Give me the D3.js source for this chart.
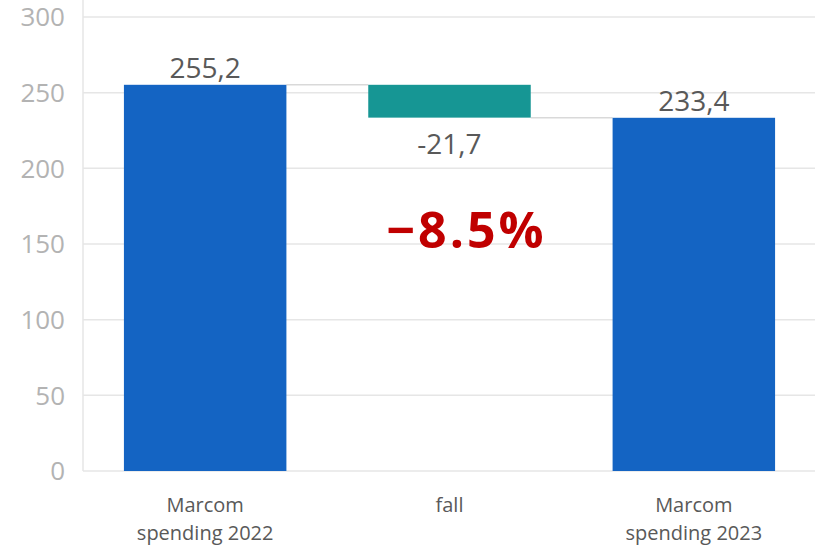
<!DOCTYPE html>
<html>
<head>
<meta charset="utf-8">
<script src="https://cdn.jsdelivr.net/npm/d3@7"></script>
<style>
  body { margin: 0; background: #fff; }
  svg { display: block; font-family: "Open Sans", "Noto Sans", sans-serif; }
</style>
</head>
<body>
<svg width="815" height="546"></svg>
<script>
// Data
var categories = ["Marcom\nspending 2022", "fall", "Marcom\nspending 2023"];
var values = [255.2, -21.7, 233.4];
var labels = ["255,2", "-21,7", "233,4"];
var kinds = ["total", "delta", "total"];
var yTicks = [0, 50, 100, 150, 200, 250, 300];
var changeLabel = "\u22128.5%";

var svg = d3.select("svg"),
    width = +svg.attr("width"),
    height = +svg.attr("height");

var plotLeft = 83, plotRight = 816, plotTop = 17, plotBottom = 471;

var x = d3.scaleBand()
    .domain(categories)
    .range([plotLeft, plotRight])
    .paddingInner(0.335)
    .paddingOuter(0.1675);

var y = d3.scaleLinear()
    .domain([0, 300])
    .range([plotBottom, plotTop]);

// build waterfall segments
var running = 0;
var segs = categories.map(function(c, i) {
    var s;
    if (kinds[i] === "total") {
        s = { c: c, y0: 0, y1: values[i], label: labels[i], kind: "total" };
        running = values[i];
    } else {
        s = { c: c, y0: running + values[i], y1: running, label: labels[i], kind: "delta" };
        running = running + values[i];
    }
    return s;
});

// gridlines
svg.append("g")
    .selectAll("line")
    .data(yTicks)
    .enter().append("line")
    .attr("x1", plotLeft)
    .attr("x2", width)
    .attr("y1", function(d) { return y(d); })
    .attr("y2", function(d) { return y(d); })
    .style("stroke", "#e6e6e6")
    .style("stroke-width", 1.5);

// y axis line
svg.append("line")
    .attr("x1", plotLeft).attr("x2", plotLeft)
    .attr("y1", 0).attr("y2", plotBottom)
    .style("stroke", "#e6e6e6")
    .style("stroke-width", 1.5);

// tick labels
svg.append("g")
    .selectAll("text")
    .data(yTicks)
    .enter().append("text")
    .attr("x", 65)
    .attr("y", function(d) { return y(d); })
    .attr("dy", "0.36em")
    .attr("text-anchor", "end")
    .style("font-size", "26px")
    .style("fill", "#b3b3b3")
    .text(function(d) { return d; });

// connectors
for (var i = 0; i < segs.length - 1; i++) {
    var level = segs[i].kind === "total" ? segs[i].y1 : segs[i].y0;
    svg.append("line")
        .attr("x1", x(segs[i].c) + x.bandwidth())
        .attr("x2", x(segs[i + 1].c))
        .attr("y1", y(level))
        .attr("y2", y(level))
        .style("stroke", "#d9d9d9")
        .style("stroke-width", 1.5);
}

// bars
svg.append("g")
    .selectAll("rect")
    .data(segs)
    .enter().append("rect")
    .attr("x", function(d) { return x(d.c); })
    .attr("width", x.bandwidth())
    .attr("y", function(d) { return y(d.y1); })
    .attr("height", function(d) { return y(d.y0) - y(d.y1); })
    .attr("fill", function(d) { return d.kind === "total" ? "#1464c3" : "#169694"; });

// value labels
svg.append("g")
    .selectAll("text")
    .data(segs)
    .enter().append("text")
    .attr("x", function(d) { return x(d.c) + x.bandwidth() / 2; })
    .attr("y", function(d) { return d.kind === "total" ? y(d.y1) - 7 : y(d.y0) + 36; })
    .attr("text-anchor", "middle")
    .style("font-size", "28px")
    .style("fill", "#595959")
    .text(function(d) { return d.label; });

// category labels
var cat = svg.append("g")
    .selectAll("text")
    .data(categories)
    .enter().append("text")
    .attr("x", function(d) { return x(d) + x.bandwidth() / 2; })
    .attr("y", 512)
    .attr("text-anchor", "middle")
    .style("font-size", "20px")
    .style("fill", "#595959");

cat.selectAll("tspan")
    .data(function(d) { return d.split("\n"); })
    .enter().append("tspan")
    .attr("x", function() { return d3.select(this.parentNode).attr("x"); })
    .attr("dy", function(d, i) { return i === 0 ? 0 : 28; })
    .text(function(d) { return d; });

// change annotation
svg.append("text")
    .attr("x", x(categories[1]) + x.bandwidth() / 2 + 17)
    .attr("y", 248)
    .attr("text-anchor", "middle")
    .style("font-size", "50px")
    .style("font-weight", "bold")
    .style("letter-spacing", "3px")
    .style("fill", "#c00000")
    .text(changeLabel);
</script>
</body>
</html>
